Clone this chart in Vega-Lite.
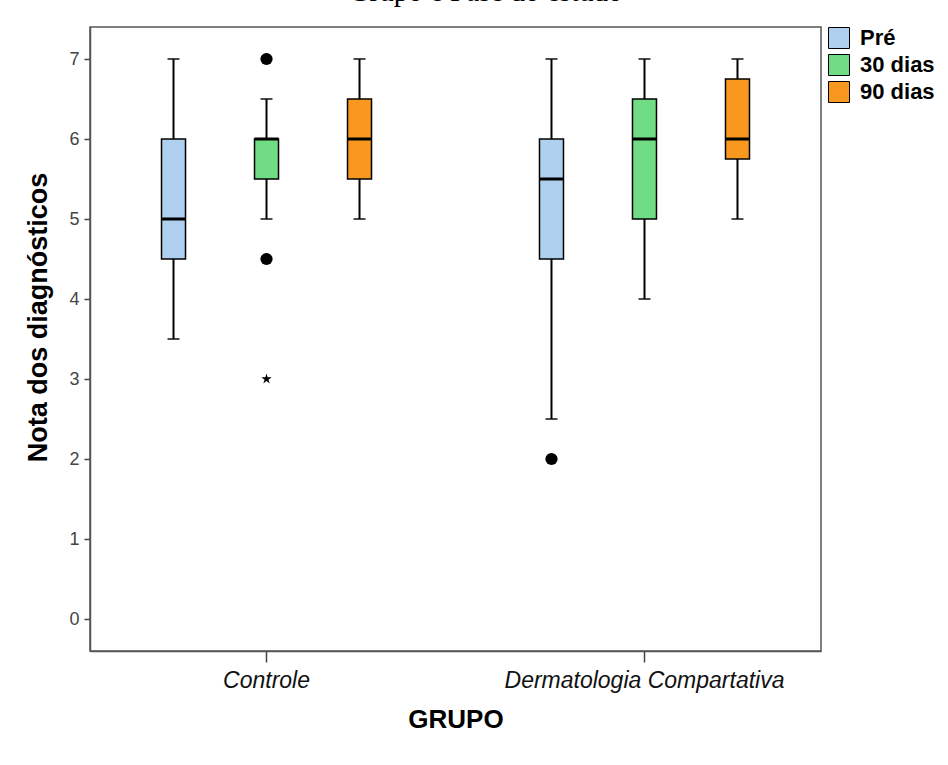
{
  "$schema": "https://vega.github.io/schema/vega-lite/v6.json",
  "width": 731,
  "height": 624,
  "autosize": {"type": "none"},
  "padding": {"left": 90, "top": 27, "right": 127, "bottom": 114},
  "background": "white",
  "title": {
    "text": "Grupo e Fase do estudo",
    "font": "Liberation Serif",
    "fontSize": 29,
    "fontWeight": "normal",
    "color": "black",
    "baseline": "alphabetic",
    "offset": -3,
    "dx": 30,
    "anchor": "middle"
  },
  "config": {
    "font": "Liberation Sans",
    "view": {"stroke": "#555", "strokeWidth": 1.5}
  },
  "datasets": {
    "boxes": [
      {"grupo": "Controle", "fase": "Pré", "min": 3.5, "q1": 4.5, "mediana": 5, "q3": 6, "max": 7},
      {"grupo": "Controle", "fase": "30 dias", "min": 5, "q1": 5.5, "mediana": 6, "q3": 6, "max": 6.5},
      {"grupo": "Controle", "fase": "90 dias", "min": 5, "q1": 5.5, "mediana": 6, "q3": 6.5, "max": 7},
      {"grupo": "Dermatologia Compartativa", "fase": "Pré", "min": 2.5, "q1": 4.5, "mediana": 5.5, "q3": 6, "max": 7},
      {"grupo": "Dermatologia Compartativa", "fase": "30 dias", "min": 4, "q1": 5, "mediana": 6, "q3": 6.5, "max": 7},
      {"grupo": "Dermatologia Compartativa", "fase": "90 dias", "min": 5, "q1": 5.75, "mediana": 6, "q3": 6.75, "max": 7}
    ],
    "outliers": [
      {"grupo": "Controle", "fase": "30 dias", "valor": 7, "tipo": "atípico"},
      {"grupo": "Controle", "fase": "30 dias", "valor": 4.5, "tipo": "atípico"},
      {"grupo": "Controle", "fase": "30 dias", "valor": 3, "tipo": "extremo"},
      {"grupo": "Dermatologia Compartativa", "fase": "Pré", "valor": 2, "tipo": "atípico"}
    ]
  },
  "encoding": {
    "x": {
      "field": "grupo",
      "type": "nominal",
      "scale": {"domain": ["Controle", "Dermatologia Compartativa"], "paddingInner": 0.066, "paddingOuter": 0},
      "axis": {
        "title": "GRUPO",
        "labelAngle": 0,
        "labelFontStyle": "italic",
        "labelFontSize": 23,
        "labelColor": "#111",
        "labelLimit": 0,
        "labelPadding": 7,
        "tickSize": 11,
        "tickColor": "#444",
        "tickWidth": 1.5,
        "domainColor": "#555",
        "domainWidth": 1.5,
        "titleFontSize": 26,
        "titleFontWeight": "bold",
        "titleColor": "black",
        "titlePadding": 14
      }
    },
    "xOffset": {
      "field": "fase",
      "type": "nominal",
      "scale": {"domain": ["Pré", "30 dias", "90 dias"], "paddingInner": 0, "paddingOuter": 0.398}
    }
  },
  "layer": [
    {
      "data": {"name": "boxes"},
      "mark": {"type": "rule", "color": "black", "strokeWidth": 2},
      "encoding": {
        "y": {
          "field": "min",
          "type": "quantitative",
          "scale": {"domain": [-0.4, 7.4], "nice": false, "zero": false},
          "axis": {
            "title": "Nota dos diagnósticos",
            "values": [0, 1, 2, 3, 4, 5, 6, 7],
            "format": "d",
            "grid": false,
            "labelFontSize": 18,
            "labelColor": "#444",
            "labelPadding": 5,
            "tickSize": 6,
            "tickColor": "#444",
            "tickWidth": 1.5,
            "domainColor": "#555",
            "domainWidth": 1.5,
            "titleFontSize": 27,
            "titleFontWeight": "bold",
            "titleColor": "black",
            "titlePadding": 16,
            "titleY": 290
          }
        },
        "y2": {"field": "max"}
      }
    },
    {
      "data": {"name": "boxes"},
      "mark": {"type": "tick", "color": "black", "size": 12, "thickness": 2, "orient": "horizontal"},
      "encoding": {"y": {"field": "min", "type": "quantitative"}}
    },
    {
      "data": {"name": "boxes"},
      "mark": {"type": "tick", "color": "black", "size": 12, "thickness": 2, "orient": "horizontal"},
      "encoding": {"y": {"field": "max", "type": "quantitative"}}
    },
    {
      "data": {"name": "boxes"},
      "mark": {"type": "bar", "width": 24, "stroke": "black", "strokeWidth": 1.5, "opacity": 1},
      "encoding": {
        "y": {"field": "q1", "type": "quantitative"},
        "y2": {"field": "q3"},
        "color": {
          "field": "fase",
          "type": "nominal",
          "scale": {"domain": ["Pré", "30 dias", "90 dias"], "range": ["#AED0EE", "#70DC84", "#F8981F"]},
          "legend": {
            "title": null,
            "orient": "right",
            "offset": 7,
            "padding": 0,
            "symbolType": "square",
            "symbolSize": 441,
            "symbolStrokeColor": "black",
            "symbolStrokeWidth": 1,
            "symbolOpacity": 1,
            "labelFontSize": 22,
            "labelFontWeight": "bold",
            "labelColor": "black",
            "labelOffset": 10,
            "rowPadding": 1
          }
        }
      }
    },
    {
      "data": {"name": "boxes"},
      "mark": {"type": "tick", "color": "black", "size": 24, "thickness": 3, "orient": "horizontal", "opacity": 1},
      "encoding": {"y": {"field": "mediana", "type": "quantitative"}}
    },
    {
      "data": {"name": "outliers"},
      "mark": {"type": "point", "filled": true, "color": "black", "opacity": 1},
      "encoding": {
        "y": {"field": "valor", "type": "quantitative"},
        "shape": {
          "field": "tipo",
          "type": "nominal",
          "scale": {
            "domain": ["atípico", "extremo"],
            "range": ["circle", "M0,-1L0.2,-0.3L0.95,-0.3L0.35,0.12L0.59,0.81L0,0.38L-0.59,0.81L-0.35,0.12L-0.95,-0.3L-0.2,-0.3Z"]
          },
          "legend": null
        },
        "size": {
          "field": "tipo",
          "type": "nominal",
          "scale": {"domain": ["atípico", "extremo"], "range": [150, 120]},
          "legend": null
        }
      }
    }
  ]
}
